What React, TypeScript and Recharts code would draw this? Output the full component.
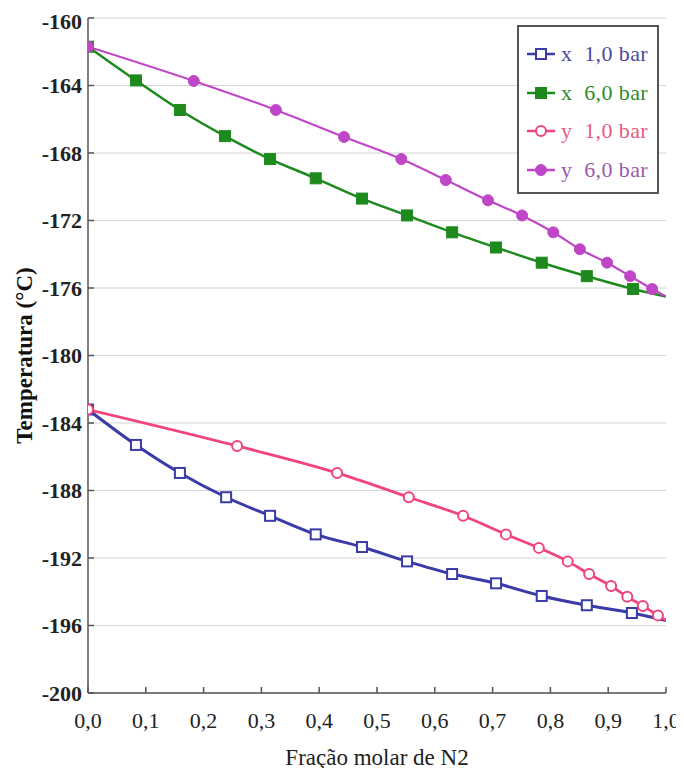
import { LineChart, Line, XAxis, YAxis, CartesianGrid } from "recharts";

// composição molar de N2 (eixo x) e temperatura (°C)
const xLiq1 = [0, 0.083, 0.159, 0.239, 0.315, 0.394, 0.474, 0.552, 0.63, 0.706, 0.785, 0.863, 0.941, 1.0];
const tLiq1 = [-183.2, -185.3, -186.96, -188.4, -189.5, -190.6, -191.35, -192.2, -192.95, -193.5, -194.25, -194.8, -195.26, -195.7];

const xLiq6 = [0, 0.083, 0.159, 0.237, 0.315, 0.394, 0.474, 0.552, 0.63, 0.706, 0.785, 0.863, 0.943, 1.0];
const tLiq6 = [-161.7, -163.7, -165.45, -167.0, -168.36, -169.5, -170.7, -171.7, -172.7, -173.6, -174.5, -175.3, -176.06, -176.5];

const yVap1 = [0, 0.258, 0.431, 0.555, 0.649, 0.723, 0.78, 0.83, 0.867, 0.905, 0.933, 0.96, 0.986, 1.0];
const tVap1 = [-183.2, -185.36, -186.96, -188.4, -189.5, -190.6, -191.4, -192.2, -192.95, -193.66, -194.3, -194.84, -195.4, -195.7];

const yVap6 = [0, 0.183, 0.325, 0.443, 0.542, 0.619, 0.692, 0.751, 0.805, 0.851, 0.898, 0.938, 0.976, 1.0];
const tVap6 = [-161.7, -163.73, -165.45, -167.05, -168.36, -169.6, -170.8, -171.7, -172.7, -173.7, -174.5, -175.3, -176.06, -176.5];

const xTicks = [0, 0.1, 0.2, 0.3, 0.4, 0.5, 0.6, 0.7, 0.8, 0.9, 1.0];
const yTicks = [-200, -196, -192, -188, -184, -180, -176, -172, -168, -164, -160];

const SERIF = "'Liberation Serif', 'Times New Roman', serif";

const toRows = (xs: number[], ts: number[]) => xs.map((x, i) => ({ x, t: ts[i] }));

const series = [
  { key: "x1", name: "x  1,0 bar", data: toRows(xLiq1, tLiq1), color: "#3a3aa8", text: "#4a4aa0", width: 3, shape: "square", filled: false },
  { key: "x6", name: "x  6,0 bar", data: toRows(xLiq6, tLiq6), color: "#1e8a1e", text: "#2e8a2e", width: 2.5, shape: "square", filled: true },
  { key: "y1", name: "y  1,0 bar", data: toRows(yVap1, tVap1), color: "#f0457c", text: "#e85a84", width: 2.8, shape: "circle", filled: false },
  { key: "y6", name: "y  6,0 bar", data: toRows(yVap6, tVap6), color: "#c046c8", text: "#9a5ab0", width: 2.2, shape: "circle", filled: true },
];

type S = (typeof series)[number];

function Marker({ s, cx, cy }: { s: S; cx: number; cy: number }) {
  const fill = s.filled ? s.color : "#fff";
  if (s.shape === "square") {
    const a = s.filled ? 11 : 10;
    return <rect x={cx - a / 2} y={cy - a / 2} width={a} height={a} fill={fill} stroke={s.color} strokeWidth={s.filled ? 1 : 2} />;
  }
  return <circle cx={cx} cy={cy} r={s.filled ? 5.5 : 5} fill={fill} stroke={s.color} strokeWidth={s.filled ? 1 : 2} />;
}

const makeDot = (s: S) => (p: any) => {
  if (p.index === s.data.length - 1) return <g key={p.key} />;
  return <Marker key={p.key} s={s} cx={p.cx} cy={p.cy} />;
};

function LegendBox() {
  return (
    <div
      style={{
        position: "absolute",
        left: 509,
        top: 17,
        width: 142,
        height: 169,
        border: "2px solid #555",
        boxSizing: "border-box",
        background: "#fff",
        paddingTop: 8,
        fontFamily: SERIF,
      }}
    >
      {series.map((s) => (
        <div key={s.key} style={{ height: 38.5, display: "flex", alignItems: "center" }}>
          <svg width={36} height={16} style={{ marginLeft: 6 }}>
            <line x1={2} y1={8} x2={30} y2={8} stroke={s.color} strokeWidth={2.5} />
            <Marker s={s} cx={16} cy={8} />
          </svg>
          <span style={{ color: s.text, fontSize: 22, whiteSpace: "pre", letterSpacing: 0.4 }}>{s.name}</span>
        </div>
      ))}
    </div>
  );
}

function YTitle({ viewBox }: any) {
  const cy = viewBox.y + viewBox.height / 2;
  return (
    <text
      x={16}
      y={cy}
      transform={`rotate(-90, 16, ${cy})`}
      textAnchor="middle"
      dominantBaseline="central"
      fill="#111"
      fontSize={23}
      fontWeight="bold"
      fontFamily={SERIF}
    >
      Temperatura (°C)
    </text>
  );
}

const fmt = (v: number) => v.toFixed(1).replace(".", ",");

export default function App() {
  return (
    <div style={{ position: "relative", width: 676, height: 760, background: "#fff", fontFamily: SERIF }}>
      <style>{`html,body{overflow:hidden}.recharts-wrapper,.recharts-surface{overflow:visible !important}`}</style>
      <LineChart width={676} height={760} margin={{ top: 10, right: 18, left: 0, bottom: 0 }}>
        <CartesianGrid vertical={false} stroke="#d4d4d4" strokeWidth={1.2} />
        <XAxis
          type="number"
          dataKey="x"
          domain={[0, 1]}
          ticks={xTicks}
          tickFormatter={fmt}
          allowDataOverflow
          height={75}
          stroke="#555"
          strokeWidth={1.5}
          tickSize={-6}
          tickMargin={25}
          tick={{ fill: "#222", fontSize: 22, fontFamily: SERIF }}
          label={{ value: "Fração molar de N2", position: "insideBottom", offset: 3, fill: "#222", fontSize: 23, fontFamily: SERIF }}
        />
        <YAxis
          type="number"
          dataKey="t"
          domain={[-200, -160]}
          ticks={yTicks}
          allowDataOverflow
          width={80}
          stroke="#555"
          strokeWidth={1.5}
          tickSize={-6}
          tickMargin={12}
          tick={{ fill: "#222", fontSize: 22, fontFamily: SERIF, fontWeight: "bold" }}
          label={<YTitle />}
        />
        {series.map((s) => (
          <Line
            key={s.key}
            data={s.data}
            dataKey="t"
            name={s.name}
            type="monotone"
            stroke={s.color}
            strokeWidth={s.width}
            dot={makeDot(s)}
            activeDot={false}
            isAnimationActive={false}
          />
        ))}
      </LineChart>
      <LegendBox />
    </div>
  );
}
